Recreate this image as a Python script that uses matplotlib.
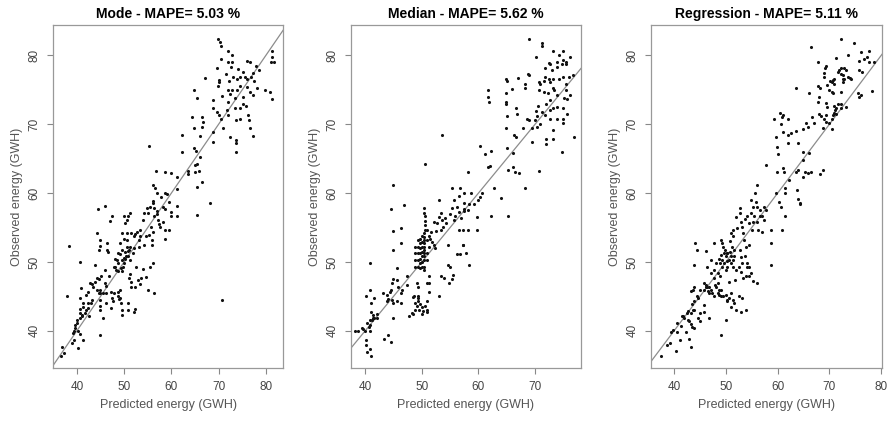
import matplotlib
matplotlib.use("Agg")
import matplotlib.pyplot as plt
import numpy as np

plt.rcParams["font.family"] = ["Liberation Sans", "DejaVu Sans"]

# Mode panel: (predicted, observed)
mode_pts = [
    (69.8, 82.4), (70.3, 81.9), (70.6, 81.3), (72.0, 80.6), (72.9, 80.1), (70.6, 79.5), (72.0, 79.0),
    (72.9, 79.1), (76.0, 79.2), (76.6, 79.0), (81.3, 80.6), (81.3, 79.8), (81.1, 79.0), (81.8, 79.0),
    (72.6, 78.3), (74.1, 78.0), (69.6, 78.1), (75.1, 77.6), (77.2, 77.5), (78.0, 78.4), (78.5, 77.8),
    (71.5, 77.3), (73.1, 76.9), (73.9, 76.6), (75.9, 76.6), (75.6, 76.9), (76.9, 76.8), (74.6, 76.9),
    (72.1, 76.3), (70.1, 76.1), (70.1, 76.4), (67.1, 76.7), (64.7, 75.0), (65.4, 73.8), (69.8, 75.5),
    (72.0, 75.0), (72.9, 75.0), (73.9, 75.0), (74.6, 75.6), (77.5, 76.2), (78.2, 75.2), (79.9, 74.9),
    (80.8, 74.7), (81.2, 73.7), (76.7, 74.7), (77.2, 74.3), (76.0, 75.4), (75.1, 73.9), (73.4, 73.8),
    (72.5, 74.4), (70.8, 74.1), (68.9, 73.5), (72.0, 73.2), (75.1, 73.0), (73.4, 72.3), (74.6, 72.3),
    (75.8, 72.6), (71.7, 72.0), (68.9, 72.4), (69.6, 71.8), (70.0, 71.3), (70.5, 70.7), (72.0, 71.3),
    (73.7, 70.6), (74.6, 70.7), (76.5, 70.6), (76.3, 71.4), (76.6, 69.4), (77.2, 68.3), (72.5, 68.1),
    (73.6, 67.7), (73.7, 67.2), (73.7, 65.9), (71.0, 69.4), (68.9, 68.8), (68.7, 67.4), (66.5, 71.0),
    (66.6, 70.3), (64.3, 71.0), (64.7, 69.5), (66.5, 69.6), (64.7, 66.6), (65.2, 66.1), (62.2, 68.5),
    (62.2, 66.0), (66.0, 68.3), (66.0, 65.3), (63.6, 63.2), (63.5, 62.8), (65.0, 64.1), (65.4, 64.2),
    (64.9, 63.1), (65.9, 63.2), (66.5, 61.6), (65.4, 60.9), (65.4, 56.8), (68.2, 58.6), (70.7, 44.5),
    (55.2, 66.9), (61.2, 62.4), (59.9, 62.9), (58.6, 63.0), (56.7, 63.2), (56.1, 61.2), (56.5, 60.8),
    (56.9, 60.0), (57.8, 59.5), (58.6, 60.0), (59.0, 59.9), (56.1, 58.9), (56.1, 58.5), (55.5, 58.0),
    (55.0, 57.1), (54.8, 57.8), (56.4, 57.8), (56.9, 57.4), (56.9, 57.0), (58.2, 58.0), (58.6, 57.7),
    (59.6, 58.7), (61.2, 58.1), (61.2, 56.6), (59.9, 56.7), (59.9, 57.3), (56.4, 56.7), (57.1, 56.1),
    (57.3, 55.5), (58.3, 55.8), (58.6, 54.6), (59.4, 54.7), (58.7, 53.4), (57.5, 55.1), (55.7, 55.1),
    (56.2, 54.4), (55.3, 53.9), (54.6, 53.7), (54.3, 52.5), (55.9, 53.2), (55.9, 52.5), (53.3, 53.7),
    (53.1, 53.2), (53.1, 52.2), (52.7, 54.4), (52.3, 54.0), (53.4, 54.6), (53.9, 56.1), (54.3, 57.1),
    (51.3, 57.1), (50.9, 56.6), (50.6, 56.1), (50.1, 55.7), (49.5, 54.2), (50.6, 54.2), (51.4, 54.2),
    (52.0, 53.7), (50.6, 53.2), (49.9, 53.4), (50.6, 52.2), (51.3, 52.1), (52.0, 52.0), (51.9, 51.3),
    (51.3, 50.3), (51.1, 51.7), (49.5, 51.7), (49.2, 51.2), (49.5, 50.3), (50.2, 51.4), (50.4, 50.8),
    (50.9, 50.8), (50.0, 49.8), (49.7, 49.3), (49.4, 49.1), (48.8, 49.8), (48.4, 50.3), (48.1, 49.3),
    (48.3, 48.8), (48.8, 48.7), (49.6, 48.7), (49.9, 50.6), (50.2, 50.4), (51.3, 48.3), (52.5, 49.3),
    (54.0, 49.0), (53.6, 47.6), (51.1, 47.7), (51.5, 47.1), (51.4, 46.4), (52.3, 46.3), (52.9, 47.4),
    (53.4, 46.8), (54.6, 47.8), (55.0, 45.9), (56.4, 45.5), (55.5, 49.3), (56.1, 49.8), (50.9, 51.6),
    (44.2, 54.2), (44.9, 53.2), (44.9, 52.3), (44.7, 51.7), (46.3, 52.7), (46.3, 51.7), (45.9, 48.9),
    (46.6, 51.4), (47.4, 56.6), (47.1, 56.0), (48.8, 51.3), (48.1, 50.5), (49.2, 52.8), (49.9, 56.6),
    (47.8, 49.3), (46.7, 48.0), (44.5, 57.7), (45.9, 58.1), (43.8, 49.5), (40.7, 50.0), (38.4, 52.3),
    (42.8, 47.0), (40.9, 46.2), (40.6, 44.8), (42.0, 45.2), (42.3, 45.6), (43.2, 46.8), (43.5, 46.3),
    (43.9, 47.1), (44.2, 47.6), (44.6, 47.5), (45.1, 47.9), (44.9, 46.0), (46.0, 46.9), (46.1, 46.5),
    (45.6, 45.5), (44.9, 45.5), (44.2, 46.0), (44.6, 45.5), (44.8, 44.5), (44.8, 43.6), (44.9, 43.0),
    (45.5, 41.8), (44.9, 39.4), (46.2, 45.5), (46.2, 44.0), (47.2, 45.7), (47.8, 45.5), (47.4, 44.7),
    (47.6, 44.3), (47.3, 43.3), (48.8, 45.6), (49.2, 45.9), (48.8, 45.0), (49.0, 44.6), (49.4, 44.1),
    (49.5, 43.0), (49.5, 42.3), (50.9, 44.0), (50.9, 43.0), (52.0, 42.8), (52.2, 43.1), (49.2, 44.7),
    (43.2, 44.5), (43.0, 44.0), (42.3, 44.0), (41.4, 44.0), (41.3, 43.5), (41.1, 42.3), (40.7, 42.6),
    (40.6, 41.8), (40.1, 41.6), (40.0, 41.2), (39.6, 40.9), (39.6, 40.4), (39.4, 40.0), (40.3, 40.0),
    (40.7, 39.5), (39.1, 39.7), (38.9, 38.2), (39.4, 38.7), (40.2, 37.5), (41.4, 38.7), (36.8, 37.7),
    (36.6, 36.3), (37.3, 36.8), (38.0, 45.1), (41.8, 42.6), (42.0, 43.0), (42.3, 43.3), (42.5, 42.2),
    (41.1, 42.2), (40.7, 43.1), (61.2, 60.6),
]

# Median panel
median_pts = [
    (69.0, 82.4), (71.3, 81.8), (71.3, 81.3), (73.1, 80.6), (74.9, 80.6), (74.3, 80.1), (76.1, 79.7),
    (70.1, 79.7), (72.5, 78.9), (72.7, 78.8), (73.9, 79.0), (74.9, 79.3), (75.5, 79.0), (75.5, 78.8),
    (74.8, 78.7), (73.9, 78.3), (71.8, 78.1), (73.0, 77.8), (71.8, 76.8), (68.8, 77.3), (69.0, 77.2),
    (67.0, 76.7), (64.9, 76.5), (65.0, 76.2), (64.9, 74.5), (64.9, 73.2), (64.9, 73.0), (65.0, 71.2),
    (61.7, 73.9), (65.9, 75.1), (68.3, 75.9), (68.3, 75.2), (72.4, 76.6), (73.1, 76.6), (74.2, 76.6),
    (74.9, 76.9), (75.9, 76.8), (76.7, 77.2), (75.4, 75.9), (75.5, 75.0), (76.2, 74.3), (72.7, 76.1),
    (71.5, 76.2), (70.6, 76.1), (70.9, 75.9), (70.6, 75.0), (71.5, 74.7), (72.3, 74.5), (73.1, 75.3),
    (73.3, 74.9), (73.9, 74.2), (75.1, 73.8), (75.7, 73.7), (72.7, 73.5), (71.9, 73.0), (73.1, 72.4),
    (73.9, 72.5), (72.7, 72.1), (74.9, 72.4), (75.7, 71.5), (70.5, 72.6), (70.1, 71.9), (71.2, 71.8),
    (71.8, 71.3), (70.3, 71.2), (68.6, 70.8), (69.0, 70.6), (69.9, 70.6), (70.9, 70.1), (70.3, 69.6),
    (69.5, 69.4), (72.6, 70.7), (73.8, 70.7), (74.9, 70.7), (74.9, 70.2), (73.1, 69.1), (72.0, 67.8),
    (72.0, 67.1), (73.1, 67.9), (66.6, 72.3), (66.8, 71.5), (67.8, 69.4), (66.2, 68.4), (66.7, 68.1),
    (64.9, 69.4), (65.0, 66.5), (66.1, 65.8), (69.4, 67.4), (74.8, 66.0), (76.8, 68.2), (61.8, 73.2),
    (61.6, 74.9), (65.2, 63.3), (66.1, 63.8), (66.4, 63.1), (67.1, 62.9), (70.6, 63.2), (68.3, 60.8),
    (65.2, 56.7), (60.3, 66.9), (61.1, 65.7), (62.2, 66.1), (61.7, 63.8), (62.1, 63.9), (58.1, 63.1),
    (50.5, 64.2), (53.6, 68.4), (46.8, 58.3), (45.0, 61.2), (44.5, 57.7), (45.0, 54.5), (46.3, 54.9),
    (46.3, 52.7), (45.0, 51.7), (45.6, 49.1), (45.0, 47.5), (45.6, 47.4), (45.8, 46.4), (44.7, 47.0),
    (44.6, 45.9), (43.8, 45.2), (43.2, 45.5), (44.3, 45.6), (43.8, 44.3), (44.1, 44.6), (44.7, 44.5),
    (45.0, 44.0), (45.6, 44.3), (46.4, 45.5), (46.4, 44.0), (47.4, 46.7), (47.4, 47.9), (47.7, 42.1),
    (45.0, 41.8), (46.5, 45.9), (48.5, 44.9), (48.8, 44.0), (49.1, 46.9), (49.3, 46.4), (49.3, 45.1),
    (49.4, 44.7), (49.3, 44.3), (49.1, 43.6), (48.8, 43.0), (49.7, 43.9), (49.5, 43.0), (50.2, 42.9),
    (50.0, 43.5), (50.6, 43.6), (50.9, 44.3), (50.9, 46.9), (51.2, 45.7), (51.0, 43.0), (51.0, 42.8),
    (48.3, 42.6), (48.5, 42.4), (48.7, 45.0), (50.0, 42.5), (51.2, 47.9), (51.2, 46.9), (53.3, 47.9),
    (53.0, 45.1), (54.0, 47.6), (54.7, 49.6), (54.9, 49.2), (55.5, 48.1), (54.8, 46.9), (55.4, 47.5),
    (58.4, 49.6), (57.8, 51.3), (56.2, 51.2), (56.7, 51.2), (57.3, 52.5), (57.2, 52.4), (54.7, 52.5),
    (56.5, 54.6), (57.2, 54.6), (56.9, 56.4), (56.5, 57.3), (55.3, 57.9), (55.6, 59.0), (55.3, 60.7),
    (56.5, 59.6), (56.8, 60.7), (57.4, 60.0), (57.4, 58.6), (58.6, 60.0), (58.4, 58.4), (57.5, 57.7),
    (57.4, 57.4), (58.1, 57.5), (59.3, 58.4), (59.7, 56.5), (60.0, 59.0), (60.2, 59.5), (60.7, 60.0),
    (62.8, 60.7), (62.3, 56.7), (64.0, 59.3), (59.7, 54.6), (58.1, 54.6), (56.2, 58.0), (55.9, 56.6),
    (55.0, 56.9), (55.6, 56.1), (54.1, 56.4), (54.2, 55.6), (53.8, 55.1), (53.3, 54.6), (52.7, 55.6),
    (53.0, 56.5), (53.3, 57.1), (53.6, 56.1), (52.1, 55.8), (52.5, 54.5), (51.7, 54.4), (51.2, 53.8),
    (51.0, 53.2), (51.5, 53.3), (51.8, 52.9), (52.1, 52.4), (52.4, 52.0), (51.2, 52.2), (50.9, 54.6),
    (50.3, 57.8), (50.4, 57.1), (50.5, 56.6), (50.6, 55.9), (50.6, 55.3), (50.5, 54.7), (50.4, 54.2),
    (50.3, 53.6), (50.3, 53.2), (50.3, 52.7), (50.3, 52.2), (50.3, 51.7), (50.3, 51.3), (50.3, 50.8),
    (50.3, 50.3), (50.0, 53.7), (50.0, 52.9), (50.0, 52.2), (50.0, 51.5), (50.0, 50.8), (50.0, 50.0),
    (50.0, 49.3), (49.6, 53.4), (49.6, 52.7), (49.6, 52.0), (49.6, 51.3), (49.6, 50.5), (49.6, 49.8),
    (49.6, 49.1), (49.3, 53.2), (49.3, 52.2), (49.3, 51.3), (49.3, 50.3), (49.3, 49.3), (48.8, 52.2),
    (48.8, 51.3), (48.8, 50.3), (48.8, 49.3), (50.3, 49.3), (50.3, 48.8), (50.9, 51.3), (50.9, 50.3),
    (53.0, 59.0), (40.0, 40.0), (39.7, 40.3), (38.8, 40.0), (38.2, 40.0), (39.4, 40.4), (40.3, 41.1),
    (40.8, 41.6), (40.6, 40.6), (40.9, 40.0), (40.9, 40.9), (41.2, 41.6), (41.4, 42.3), (41.4, 41.8),
    (41.6, 41.8), (42.1, 41.8), (42.1, 42.5), (41.0, 42.8), (41.0, 44.0), (40.8, 46.0), (41.5, 44.7),
    (40.1, 45.0), (40.9, 49.9), (40.2, 38.7), (40.2, 38.0), (40.3, 37.0), (40.8, 37.3), (41.0, 36.4),
    (43.4, 38.8), (44.0, 39.4), (44.6, 38.4),
]

# Regression panel
regression_pts = [
    (72.2, 82.4), (74.7, 81.8), (66.5, 81.2), (76.0, 80.5), (77.7, 80.6), (73.6, 80.1), (71.3, 79.6),
    (77.3, 79.8), (76.7, 79.4), (75.7, 79.2), (67.8, 79.0), (77.6, 79.0), (78.6, 79.0), (69.4, 78.5),
    (69.1, 78.1), (72.3, 78.1), (72.8, 78.1), (71.8, 77.8), (73.2, 77.8), (75.8, 77.8), (76.3, 77.6),
    (68.9, 77.4), (71.7, 77.6), (72.3, 77.3), (72.7, 77.1), (68.9, 76.9), (70.7, 76.4), (70.9, 76.5),
    (70.2, 76.3), (72.6, 76.5), (73.6, 76.8), (73.9, 76.7), (74.2, 76.6), (72.7, 76.1), (72.8, 76.5),
    (70.4, 76.1), (70.9, 75.9), (69.6, 75.7), (67.8, 75.5), (63.5, 75.2), (66.0, 74.5), (68.2, 75.3),
    (70.0, 74.9), (70.4, 74.7), (70.7, 74.5), (72.2, 74.7), (75.6, 74.5), (76.0, 74.3), (75.8, 74.0),
    (78.3, 74.8), (68.0, 73.9), (67.7, 73.2), (69.3, 73.1), (69.6, 72.5), (70.9, 72.7), (71.3, 72.3),
    (71.7, 73.0), (72.3, 73.0), (73.2, 72.5), (72.2, 72.4), (71.1, 72.0), (70.9, 71.6), (71.2, 71.5),
    (69.3, 71.3), (70.7, 71.3), (70.4, 70.8), (68.0, 71.5), (68.3, 71.2), (66.7, 71.1), (68.9, 70.7),
    (69.3, 70.3), (69.9, 70.2), (70.5, 69.3), (68.8, 69.4), (67.0, 70.2), (65.5, 70.2), (65.9, 69.6),
    (64.8, 69.3), (63.6, 69.0), (60.8, 71.1), (60.4, 71.6), (61.1, 71.3), (61.9, 70.8), (59.2, 70.8),
    (60.6, 70.0), (61.1, 68.9), (61.9, 68.4), (62.5, 68.7), (63.9, 67.2), (61.9, 67.2), (59.6, 68.2),
    (59.8, 66.7), (60.1, 65.7), (64.8, 66.0), (66.0, 65.8), (64.8, 64.8), (63.6, 63.0), (63.9, 63.3),
    (64.8, 62.4), (65.9, 62.9), (65.3, 63.1), (66.5, 63.1), (68.2, 62.8), (68.8, 63.3), (59.9, 63.0),
    (61.0, 63.6), (61.2, 63.1), (57.8, 64.1), (62.1, 61.9), (63.9, 59.2), (63.8, 60.5), (64.4, 58.6),
    (64.4, 58.4), (59.6, 60.0), (60.3, 58.7), (60.6, 58.0), (61.4, 60.7), (61.4, 60.0), (61.5, 56.6),
    (60.9, 54.6), (58.8, 52.7), (58.8, 49.6), (58.8, 54.6), (57.4, 56.1), (56.1, 61.2), (55.6, 60.0),
    (55.8, 58.7), (54.8, 59.0), (55.2, 58.0), (54.8, 57.1), (56.1, 58.0), (56.6, 57.6), (57.4, 58.0),
    (57.7, 57.5), (56.9, 56.6), (56.6, 56.7), (55.4, 56.6), (56.1, 55.8), (57.0, 54.4), (56.3, 54.6),
    (55.1, 54.6), (55.2, 55.8), (54.1, 56.6), (54.5, 55.7), (53.7, 56.3), (52.7, 57.8), (52.7, 57.1),
    (52.9, 55.8), (53.2, 55.1), (53.3, 54.2), (53.5, 53.2), (53.8, 52.2), (54.5, 52.5), (52.2, 54.9),
    (51.9, 56.5), (51.4, 54.6), (50.9, 54.2), (51.3, 53.7), (50.8, 53.0), (51.1, 52.2), (51.6, 51.7),
    (52.7, 51.8), (52.9, 50.7), (53.7, 50.8), (54.0, 49.8), (54.0, 49.3), (54.5, 49.3), (54.8, 48.4),
    (55.3, 47.2), (56.1, 46.9), (54.5, 47.9), (53.8, 47.9), (53.4, 47.7), (52.9, 48.6), (53.2, 49.8),
    (52.5, 49.3), (52.0, 48.8), (51.3, 49.3), (51.3, 50.3), (51.6, 50.8), (50.2, 51.3), (49.8, 51.8),
    (49.5, 52.2), (49.6, 51.3), (50.0, 50.8), (50.3, 51.3), (50.8, 51.5), (50.9, 50.8), (50.6, 50.3),
    (50.2, 50.2), (49.6, 49.8), (49.3, 50.3), (49.0, 51.0), (48.7, 50.5), (48.9, 49.8), (49.3, 49.3),
    (50.0, 48.8), (50.3, 49.3), (50.9, 49.8), (49.0, 53.2), (49.3, 52.7), (47.7, 52.7), (46.1, 51.6),
    (44.5, 51.7), (44.1, 52.8), (43.9, 49.6), (47.1, 50.3), (47.7, 48.8), (48.0, 49.8), (48.4, 48.4),
    (46.4, 49.3), (47.1, 48.4), (45.8, 46.9), (46.4, 46.4), (46.8, 46.4), (47.1, 45.9), (45.8, 45.9),
    (47.4, 45.5), (48.0, 46.4), (47.7, 45.0), (48.5, 45.5), (48.7, 45.9), (48.6, 45.2), (49.0, 45.9),
    (49.0, 45.0), (49.5, 45.0), (50.0, 45.2), (50.2, 44.5), (50.3, 44.3), (50.9, 45.5), (50.6, 44.7),
    (51.3, 44.5), (51.6, 44.0), (50.9, 43.5), (51.9, 43.0), (52.9, 42.8), (53.8, 43.0), (53.1, 44.7),
    (52.5, 45.0), (50.0, 41.6), (49.0, 39.4), (46.2, 46.3), (46.2, 46.7), (46.6, 45.8), (46.8, 45.5),
    (44.4, 45.0), (44.6, 44.7), (43.9, 44.3), (43.7, 46.0), (43.9, 46.4), (43.2, 45.8), (43.7, 43.0),
    (43.2, 42.6), (42.7, 42.9), (43.5, 43.9), (45.0, 42.6), (45.8, 43.8), (45.8, 42.8), (46.8, 41.8),
    (45.1, 41.4), (44.6, 41.8), (41.9, 41.8), (41.6, 42.1), (41.8, 42.2), (42.4, 42.6), (40.6, 41.2),
    (40.5, 39.9), (39.7, 40.1), (39.4, 39.9), (39.2, 38.2), (38.7, 38.0), (40.3, 37.1), (41.1, 38.7),
    (42.9, 38.8), (37.4, 36.3), (43.2, 37.7), (43.9, 43.0), (42.6, 41.6), (42.9, 41.4), (43.2, 41.0),
    (43.5, 40.6), (43.9, 40.4), (41.4, 40.7), (42.3, 39.9), (45.0, 46.0), (47.9, 46.7), (48.4, 47.0),
    (47.7, 47.6), (51.7, 47.4), (50.6, 47.1), (48.9, 47.9),
]

titles = ["Mode - MAPE= 5.03 %", "Median - MAPE= 5.62 %", "Regression - MAPE= 5.11 %"]
x_ticks = [[40, 50, 60, 70, 80], [40, 50, 60, 70], [40, 50, 60, 70, 80]]
y_ticks = [40, 50, 60, 70, 80]
x_limits = [(34.9, 83.7), (37.5, 78.1), (35.6, 80.2)]
y_limits = (34.6, 84.4)

fig = plt.figure(figsize=(8.94, 4.24), dpi=100)
lefts = [0.059, 0.3926, 0.7285]
widths = [0.258, 0.2573, 0.2584]

for i, pts in enumerate([mode_pts, median_pts, regression_pts]):
    ax = fig.add_axes([lefts[i], 0.132, widths[i], 0.809])
    pts = np.array(pts)
    ax.scatter(pts[:, 0], pts[:, 1], s=5, color="#111111", linewidths=0, zorder=3)
    ax.set_xlim(*x_limits[i])
    ax.set_ylim(*y_limits)
    # 1:1 reference line
    ax.axline((40, 40), slope=1, color="#8c8c8c", lw=0.9, zorder=2)
    ax.set_xticks(x_ticks[i])
    ax.set_yticks(y_ticks)
    ax.tick_params(axis="both", direction="out", length=4, width=0.8, color="#888888",
                   labelsize=8.5, labelcolor="#444444", pad=5)
    for lbl in ax.get_yticklabels():
        lbl.set_rotation(90)
        lbl.set_va("center")
    for sp in ax.spines.values():
        sp.set_color("#999999")
        sp.set_linewidth(0.9)
    ax.set_title(titles[i], fontsize=10, fontweight="bold", pad=5)
    ax.set_xlabel("Predicted energy (GWH)", fontsize=9, color="#555555", labelpad=5)
    ax.set_ylabel("Observed energy (GWH)", fontsize=9, color="#555555", labelpad=4)

plt.savefig("out.png", dpi=100)
